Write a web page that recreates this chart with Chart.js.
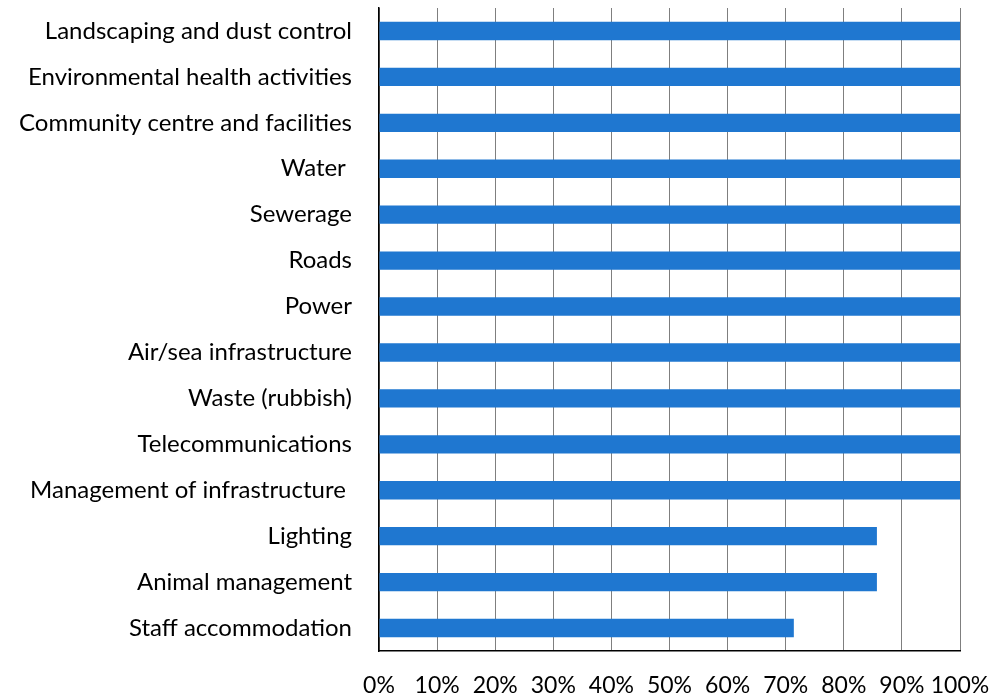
<!DOCTYPE html>
<html>
<head>
<meta charset="utf-8">
<script src="https://cdn.jsdelivr.net/npm/chart.js@4/dist/chart.umd.min.js"></script>
<style>
  html, body { margin: 0; padding: 0; background: #fff; }
  #wrap { width: 992px; height: 695px; }
</style>
</head>
<body>
<div id="wrap"><canvas id="servicesChart"></canvas></div>
<script>
const categories = [
    'Landscaping and dust control',
    'Environmental health activities',
    'Community centre and facilities',
    'Water ',
    'Sewerage',
    'Roads',
    'Power',
    'Air/sea infrastructure',
    'Waste (rubbish)',
    'Telecommunications',
    'Management of infrastructure ',
    'Lighting',
    'Animal management',
    'Staff accommodation'
];
// share of responses, percent
const shareValues = [100, 100, 100, 100, 100, 100, 100, 100, 100, 100, 100, 85.7, 85.7, 71.4];
const tickValues = [0, 10, 20, 30, 40, 50, 60, 70, 80, 90, 100];

const fontFamily = 'Lato, "Open Sans", sans-serif';

// keep the plot box fixed: no extra room for overhanging labels
function noEdgePadding(scale) {
    scale.paddingLeft = 0;
    scale.paddingRight = 0;
    scale.paddingTop = 0;
    scale.paddingBottom = 0;
}

new Chart(document.getElementById('servicesChart'), {
    type: 'bar',
    data: {
        labels: categories,
        datasets: [{
            data: shareValues,
            backgroundColor: '#1f77d0',
            categoryPercentage: 1,
            barPercentage: 0.4
        }]
    },
    options: {
        indexAxis: 'y',
        responsive: true,
        maintainAspectRatio: false,
        animation: false,
        events: [],
        layout: { padding: { top: 8, right: 32, left: 0, bottom: 0 } },
        plugins: { legend: { display: false }, tooltip: { enabled: false } },
        scales: {
            x: {
                min: 0,
                max: 100,
                afterBuildTicks: scale => { scale.ticks = tickValues.map(v => ({ value: v })); },
                afterFit: scale => { scale.height = 44; noEdgePadding(scale); },
                grid: { color: '#7f7f7f', lineWidth: 1, drawTicks: false },
                border: { color: '#000', width: 1.5 },
                ticks: {
                    color: '#000',
                    font: { family: fontFamily, size: 23 },
                    padding: 21,
                    maxRotation: 0,
                    autoSkip: false,
                    callback: v => v + '%'
                }
            },
            y: {
                afterFit: scale => { scale.width = 379; noEdgePadding(scale); },
                grid: { display: false, drawTicks: false },
                border: { color: '#000', width: 1.5 },
                ticks: {
                    color: '#000',
                    font: { family: fontFamily, size: 24 },
                    padding: 27,
                    autoSkip: false
                }
            }
        }
    }
});
</script>
</body>
</html>
